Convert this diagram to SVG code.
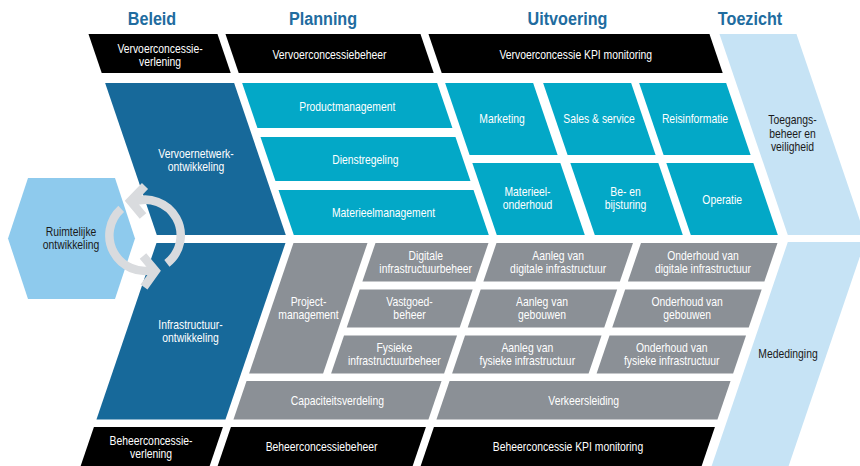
<svg xmlns="http://www.w3.org/2000/svg" width="860" height="466" viewBox="0 0 860 466">
<style>
text{font-family:"Liberation Sans",Arial,sans-serif;text-anchor:middle;font-size:12.5px;fill:#ffffff}
.hd{font-weight:bold;font-size:19px;fill:#216c9f}
.dk{fill:#1a1a1a}
.blk{fill:#000000}
.db{fill:#17699a}
.cy{fill:#03a8c7}
.gr{fill:#8b9096}
.lb{fill:#c6e3f5}
.hx{fill:#8ecaed}
.ring{fill:none;stroke:#d9dbde;stroke-width:8.5}
.head{fill:none;stroke:#d9dbde;stroke-width:8.5;stroke-linejoin:miter;stroke-miterlimit:10}
</style>
<rect width="860" height="466" fill="#ffffff"/>
<g id="headers">
<text class="hd" transform="translate(152,0) scale(0.85,1)" y="25">Beleid</text>
<text class="hd" transform="translate(323,0) scale(0.85,1)" y="25">Planning</text>
<text class="hd" transform="translate(567.5,0) scale(0.85,1)" y="25">Uitvoering</text>
<text class="hd" transform="translate(750,0) scale(0.85,1)" y="25">Toezicht</text>
</g>
<g id="vervoerconcessieverlening"><polygon class="blk" points="88.47,34 217.47,34 230.73,73 101.73,73"/><text transform="translate(160,0) scale(0.83,1)" y="53">Vervoerconcessie-</text><text transform="translate(160,0) scale(0.83,1)" y="66">verlening</text></g>
<g id="vervoerconcessiebeheer"><polygon class="blk" points="225.47,34 420.47,34 433.73,73 238.73,73"/><text transform="translate(329.5,0) scale(0.83,1)" y="59.5">Vervoerconcessiebeheer</text></g>
<g id="vervoerconcessie-kpi"><polygon class="blk" points="428.47,34 709.47,34 722.73,73 441.73,73"/><text transform="translate(575.7,0) scale(0.83,1)" y="59.5">Vervoerconcessie KPI monitoring</text></g>
<g id="toegangsbeheer"><polygon class="lb" points="719.47,34 796.47,34 864.81,235 787.81,235"/><text class="dk" transform="translate(792.5,0) scale(0.83,1)" y="124.5">Toegangs-</text><text class="dk" transform="translate(792.5,0) scale(0.83,1)" y="138">beheer en</text><text class="dk" transform="translate(792.5,0) scale(0.83,1)" y="151.5">veiligheid</text></g>
<g id="vervoernetwerkontwikkeling"><polygon class="db" points="105.13,83 234.13,83 285.81,235 156.81,235"/><text transform="translate(196,0) scale(0.83,1)" y="158">Vervoernetwerk-</text><text transform="translate(196,0) scale(0.83,1)" y="171">ontwikkeling</text></g>
<g id="productmanagement"><polygon class="cy" points="242.13,83 437.13,83 452.43,128 257.43,128"/><text transform="translate(347.3,0) scale(0.83,1)" y="111">Productmanagement</text></g>
<g id="dienstregeling"><polygon class="cy" points="260.49,137 455.49,137 470.45,181 275.45,181"/><text transform="translate(365.3,0) scale(0.83,1)" y="164.5">Dienstregeling</text></g>
<g id="materieelmanagement"><polygon class="cy" points="278.51,190 473.51,190 488.81,235 293.81,235"/><text transform="translate(383.5,0) scale(0.83,1)" y="217">Materieelmanagement</text></g>
<g id="marketing"><polygon class="cy" points="445.13,83 533.13,83 557.61,155 469.61,155"/><text transform="translate(502,0) scale(0.83,1)" y="123">Marketing</text></g>
<g id="sales-service"><polygon class="cy" points="543.13,83 631.13,83 655.61,155 567.61,155"/><text transform="translate(599,0) scale(0.83,1)" y="123">Sales &amp; service</text></g>
<g id="reisinformatie"><polygon class="cy" points="639.13,83 726.13,83 750.61,155 663.61,155"/><text transform="translate(695,0) scale(0.83,1)" y="123">Reisinformatie</text></g>
<g id="materieelonderhoud"><polygon class="cy" points="472.33,163 560.33,163 584.81,235 496.81,235"/><text transform="translate(527.5,0) scale(0.83,1)" y="196.5">Materieel-</text><text transform="translate(527.5,0) scale(0.83,1)" y="209.5">onderhoud</text></g>
<g id="bijsturing"><polygon class="cy" points="570.33,163 658.33,163 682.81,235 594.81,235"/><text transform="translate(625.5,0) scale(0.83,1)" y="196.5">Be- en</text><text transform="translate(625.5,0) scale(0.83,1)" y="209.5">bijsturing</text></g>
<g id="operatie"><polygon class="cy" points="666.33,163 753.33,163 777.81,235 690.81,235"/><text transform="translate(722.2,0) scale(0.83,1)" y="204">Operatie</text></g>
<g id="ruimtelijke-ontwikkeling"><polygon class="hx" points="28,178 115,178 135,238.5 115,299 28,299 8,238.5"/><text class="dk" transform="translate(71,0) scale(0.83,1)" y="236.5">Ruimtelijke</text><text class="dk" transform="translate(71,0) scale(0.83,1)" y="249.5">ontwikkeling</text></g>
<g id="mededinging"><polygon class="lb" points="787.81,242 864.81,242 788.65,466 711.65,466"/><text class="dk" transform="translate(788,0) scale(0.83,1)" y="358.5">Mededinging</text></g>
<g id="infrastructuurontwikkeling"><polygon class="db" points="156.47,243 285.47,243 225.46,419.5 96.46,419.5"/><text transform="translate(190.5,0) scale(0.83,1)" y="329.5">Infrastructuur-</text><text transform="translate(190.5,0) scale(0.83,1)" y="342.5">ontwikkeling</text></g>
<g id="projectmanagement"><polygon class="gr" points="293.47,243 367.47,243 323.1,373.5 249.1,373.5"/><text transform="translate(308.5,0) scale(0.83,1)" y="306.5">Project-</text><text transform="translate(308.5,0) scale(0.83,1)" y="319.5">management</text></g>
<g id="digitale-infrastructuurbeheer"><polygon class="gr" points="375.47,243 488.47,243 475.38,281.5 362.38,281.5"/><text transform="translate(425.7,0) scale(0.83,1)" y="260">Digitale</text><text transform="translate(425.7,0) scale(0.83,1)" y="273">infrastructuurbeheer</text></g>
<g id="aanleg-digitale"><polygon class="gr" points="496.47,243 632.97,243 619.88,281.5 483.38,281.5"/><text transform="translate(558.2,0) scale(0.83,1)" y="260">Aanleg van</text><text transform="translate(558.2,0) scale(0.83,1)" y="273">digitale infrastructuur</text></g>
<g id="onderhoud-digitale"><polygon class="gr" points="640.97,243 777.47,243 764.38,281.5 627.88,281.5"/><text transform="translate(703,0) scale(0.83,1)" y="260">Onderhoud van</text><text transform="translate(703,0) scale(0.83,1)" y="273">digitale infrastructuur</text></g>
<g id="vastgoedbeheer"><polygon class="gr" points="359.66,289.5 472.66,289.5 459.74,327.5 346.74,327.5"/><text transform="translate(409.5,0) scale(0.83,1)" y="306.5">Vastgoed-</text><text transform="translate(409.5,0) scale(0.83,1)" y="319.5">beheer</text></g>
<g id="aanleg-gebouwen"><polygon class="gr" points="480.66,289.5 617.16,289.5 604.24,327.5 467.74,327.5"/><text transform="translate(542,0) scale(0.83,1)" y="306.5">Aanleg van</text><text transform="translate(542,0) scale(0.83,1)" y="319.5">gebouwen</text></g>
<g id="onderhoud-gebouwen"><polygon class="gr" points="625.16,289.5 761.66,289.5 748.74,327.5 612.24,327.5"/><text transform="translate(687.1,0) scale(0.83,1)" y="306.5">Onderhoud van</text><text transform="translate(687.1,0) scale(0.83,1)" y="319.5">gebouwen</text></g>
<g id="fysieke-infrastructuurbeheer"><polygon class="gr" points="344.02,335.5 457.02,335.5 444.1,373.5 331.1,373.5"/><text transform="translate(394.3,0) scale(0.83,1)" y="352">Fysieke</text><text transform="translate(394.3,0) scale(0.83,1)" y="365">infrastructuurbeheer</text></g>
<g id="aanleg-fysieke"><polygon class="gr" points="465.02,335.5 601.52,335.5 588.6,373.5 452.1,373.5"/><text transform="translate(527.3,0) scale(0.83,1)" y="352">Aanleg van</text><text transform="translate(527.3,0) scale(0.83,1)" y="365">fysieke infrastructuur</text></g>
<g id="onderhoud-fysieke"><polygon class="gr" points="609.52,335.5 746.02,335.5 733.1,373.5 596.6,373.5"/><text transform="translate(671.7,0) scale(0.83,1)" y="352">Onderhoud van</text><text transform="translate(671.7,0) scale(0.83,1)" y="365">fysieke infrastructuur</text></g>
<g id="capaciteitsverdeling"><polygon class="gr" points="246.55,381 441.55,381 428.46,419.5 233.46,419.5"/><text transform="translate(337.3,0) scale(0.83,1)" y="405">Capaciteitsverdeling</text></g>
<g id="verkeersleiding"><polygon class="gr" points="449.55,381 730.55,381 717.46,419.5 436.46,419.5"/><text transform="translate(583.7,0) scale(0.83,1)" y="405">Verkeersleiding</text></g>
<g id="beheerconcessieverlening"><polygon class="blk" points="93.91,427 222.91,427 209.65,466 80.65,466"/><text transform="translate(151,0) scale(0.83,1)" y="445">Beheerconcessie-</text><text transform="translate(151,0) scale(0.83,1)" y="458">verlening</text></g>
<g id="beheerconcessiebeheer"><polygon class="blk" points="230.91,427 425.91,427 412.65,466 217.65,466"/><text transform="translate(321.5,0) scale(0.83,1)" y="451.5">Beheerconcessiebeheer</text></g>
<g id="beheerconcessie-kpi"><polygon class="blk" points="433.91,427 714.91,427 701.65,466 420.65,466"/><text transform="translate(568,0) scale(0.83,1)" y="451.5">Beheerconcessie KPI monitoring</text></g>
<g id="connectors">
<path class="ring" d="M166.9,263.3 A35.5,35.5 0 0 0 132.9,201.9"/>
<polyline class="head" points="145,186 130.5,201 143,216"/>
<path class="ring" d="M121.2,208.9 A35.5,35.5 0 0 0 154.2,269.6"/>
<polyline class="head" points="143,256 155.5,271 144,287"/>
</g>
</svg>
